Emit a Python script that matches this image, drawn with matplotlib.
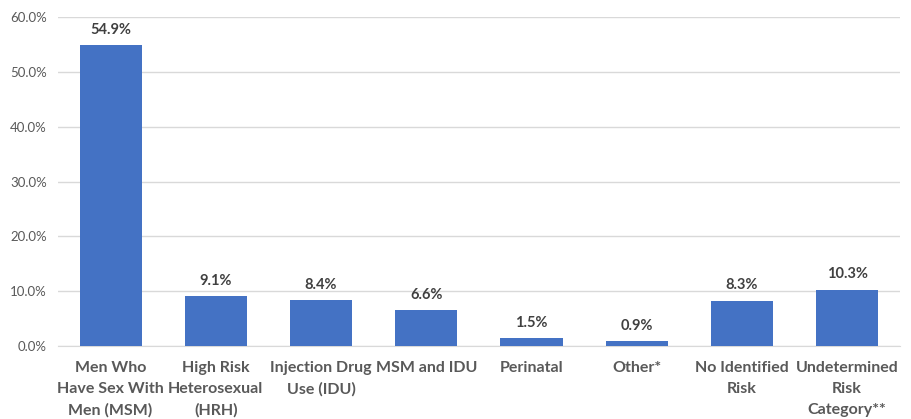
import numpy as np
import matplotlib.pyplot as plt

categories = ["Men Who\nHave Sex With\nMen (MSM)", "High Risk\nHeterosexual\n(HRH)",
              "Injection Drug\nUse (IDU)", "MSM and IDU", "Perinatal", "Other*",
              "No Identified\nRisk", "Undetermined\nRisk\nCategory**"]
values = [54.9, 9.1, 8.4, 6.6, 1.5, 0.9, 8.3, 10.3]
yticks = [0, 10, 20, 30, 40, 50, 60]

plt.rcParams['font.family'] = ['Lato', 'DejaVu Sans']
txt = '#595959'

fig = plt.figure(figsize=(9.12, 4.19), dpi=100)
ax = fig.add_axes([0.0636, 0.174, 0.923, 0.785])

x = np.arange(len(values))
ax.bar(x, values, width=0.59, color='#4472C4', zorder=3)
for xi, v in zip(x, values):
    ax.text(xi, v + 1.5, f"{v:.1f}%", ha='center', va='bottom',
            fontsize=10.5, fontweight='bold', color='#404040')

ax.set_xlim(-0.5, len(values) - 0.5)
ax.set_ylim(0, 60)
ax.set_yticks(yticks)
ax.set_yticklabels([f"{t:.1f}%" for t in yticks], fontsize=9.5, color=txt)
ax.set_xticks(x)
ax.set_xticklabels(categories, fontsize=11.5, fontweight='bold', color=txt,
                   linespacing=1.6, va='top')
ax.tick_params(length=0, pad=8)
ax.tick_params(axis='x', pad=11)
ax.grid(axis='y', color='#D9D9D9', linewidth=1, zorder=0)
for s in ['top', 'right', 'left']:
    ax.spines[s].set_visible(False)
ax.spines['bottom'].set_color('#D9D9D9')

fig.savefig('out.png', dpi=100)
